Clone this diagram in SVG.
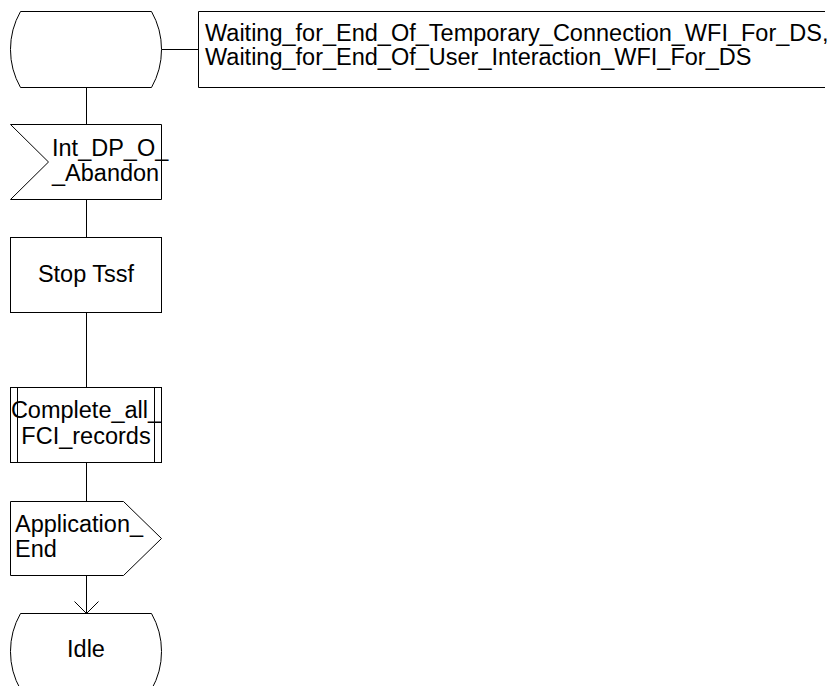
<svg xmlns="http://www.w3.org/2000/svg" width="838" height="686" viewBox="0 0 838 686">
<style>
.s{fill:#fff;stroke:#000;stroke-width:1}
.l{fill:none;stroke:#000;stroke-width:1}
text{font-family:"Liberation Sans",Arial,sans-serif;font-size:23.5px;fill:#000}
.c{text-anchor:middle}
</style>
<rect width="838" height="686" fill="#fff"/>
<g id="connectors">
<path class="l" d="M161.5,49.5 H198.5"/>
<path class="l" d="M86.5,87.5 V124.5"/>
<path class="l" d="M86.5,199.5 V237.5"/>
<path class="l" d="M86.5,312.5 V387.5"/>
<path class="l" d="M86.5,462.5 V501.5"/>
<path class="l" d="M86.5,575.5 V613.5"/>
<path class="l" d="M74.5,601.5 L86.5,613.5 L98.5,601.5"/>
</g>
<g id="state_start">
<path class="s" d="M20.5,11.5 H151.5 A77,77 0 0 1 151.5,87.5 H20.5 A77,77 0 0 1 20.5,11.5 Z"/>
</g>
<g id="comment">
<path class="l" d="M825,11.5 H198.5 V87.5 H825"/>
<text x="205" y="41">Waiting_for_End_Of_Temporary_Connection_WFI_For_DS,</text>
<text x="205" y="65">Waiting_for_End_Of_User_Interaction_WFI_For_DS</text>
</g>
<g id="input_abandon">
<path class="s" d="M10.5,124.5 H161.5 V199.5 H10.5 L48.5,162 Z"/>
<text x="52" y="156">Int_DP_O_</text>
<text x="52" y="181">_Abandon</text>
</g>
<g id="task_stop">
<rect class="s" x="10.5" y="237.5" width="151" height="75"/>
<text class="c" x="86" y="282">Stop Tssf</text>
</g>
<g id="proc_complete">
<rect class="s" x="10.5" y="387.5" width="151" height="75"/>
<path class="l" d="M17.5,387.5 V462.5 M154.5,387.5 V462.5"/>
<text class="c" x="86" y="418">Complete_all_</text>
<text class="c" x="86" y="444">FCI_records</text>
</g>
<g id="output_end">
<path class="s" d="M10.5,501.5 H123.5 L161.5,538.5 L123.5,575.5 H10.5 Z"/>
<text x="15" y="532">Application_</text>
<text x="15" y="557">End</text>
</g>
<g id="state_idle">
<path class="s" d="M20.5,613.5 H151.5 A77,77 0 0 1 151.5,689.5 H20.5 A77,77 0 0 1 20.5,613.5 Z"/>
<text class="c" x="86" y="657">Idle</text>
</g>
</svg>
